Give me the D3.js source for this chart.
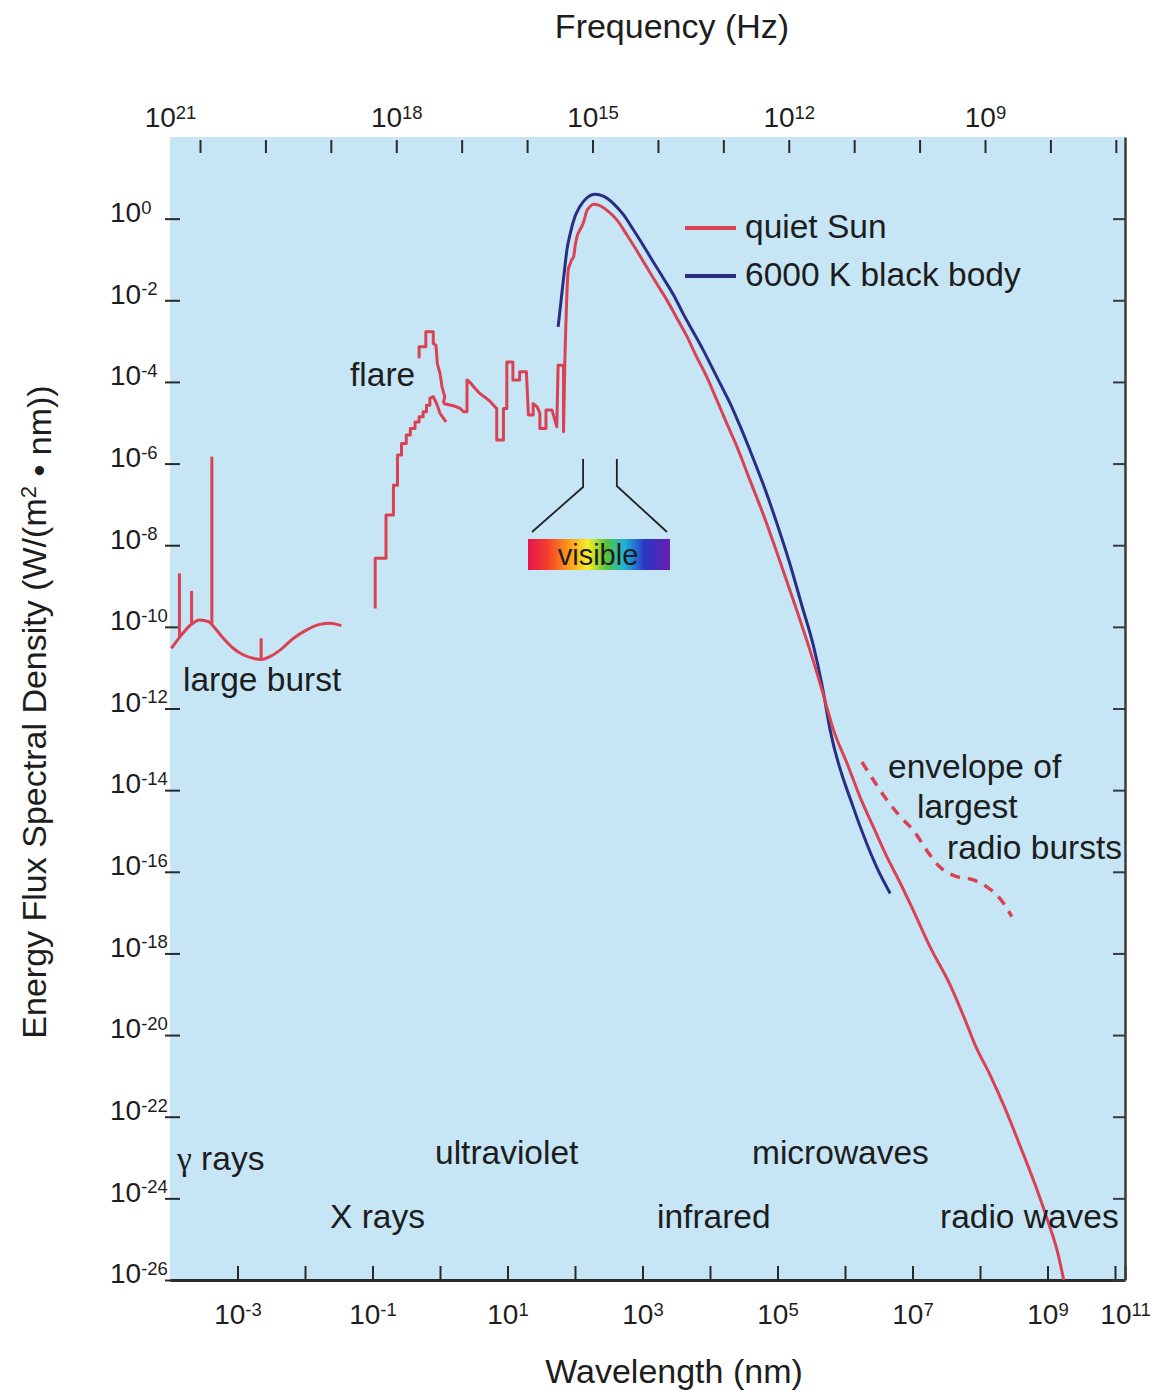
<!DOCTYPE html>
<html>
<head>
<meta charset="utf-8">
<script src="https://cdn.jsdelivr.net/npm/d3@7"></script>
<style>
  body { margin: 0; background: #fff; }
  svg text { font-family: "Liberation Sans", Arial, Helvetica, sans-serif; fill: #1d1d1d; }
</style>
</head>
<body>
<svg id="chart" width="1153" height="1397"></svg>
<script>
// every point is [log10 wavelength (nm), log10 flux (W/(m^2 nm))]
const burstCurve = [[-3.98,-10.53],[-3.85,-10.24],[-3.70,-9.96],[-3.56,-9.83],[-3.43,-9.87],[-3.33,-10.04],
  [-3.21,-10.28],[-3.06,-10.53],[-2.91,-10.69],[-2.77,-10.77],[-2.64,-10.80],[-2.52,-10.73],[-2.37,-10.57],
  [-2.17,-10.28],[-1.98,-10.08],[-1.78,-9.94],[-1.63,-9.91],[-1.46,-9.97]];
// [log wavelength, base, top]
const burstSpikes = [[-3.86,-10.27,-8.69],[-3.68,-9.93,-9.12],[-3.38,-9.95,-5.83],[-2.65,-10.80,-10.28]];

const xraySteps = [[-0.96,-9.55],[-0.96,-8.32],[-0.80,-8.32],[-0.80,-7.26],[-0.69,-7.26],[-0.69,-6.53],
  [-0.63,-6.53],[-0.63,-5.79],[-0.57,-5.79],[-0.57,-5.51],[-0.50,-5.51],[-0.50,-5.30],[-0.44,-5.30],
  [-0.44,-5.14],[-0.37,-5.14],[-0.37,-4.98],[-0.31,-4.98],[-0.31,-4.85],[-0.25,-4.85],[-0.25,-4.73],
  [-0.20,-4.73],[-0.20,-4.57],[-0.15,-4.57],[-0.15,-4.40],[-0.10,-4.36],[-0.05,-4.53],[0.00,-4.77],[0.09,-4.98]];

const flareSteps = [[-0.31,-3.42],[-0.31,-3.14],[-0.21,-3.14],[-0.21,-2.77],[-0.10,-2.77],[-0.10,-3.06],
  [-0.06,-3.10],[-0.04,-3.55],[0.00,-3.79],[0.03,-4.12],[0.07,-4.36],[0.05,-4.53]];

const euvSteps = [[0.05,-4.53],[0.21,-4.59],[0.30,-4.65],[0.35,-4.73],[0.40,-4.73],[0.40,-3.95],[0.44,-4.00],
  [0.52,-4.16],[0.59,-4.28],[0.67,-4.38],[0.75,-4.49],[0.82,-4.62],[0.84,-4.65],[0.84,-5.42],[0.94,-5.42],
  [0.94,-4.65],[0.99,-4.65],[0.99,-3.51],[1.08,-3.51],[1.08,-3.95],[1.18,-3.95],[1.18,-3.75],[1.28,-3.75],
  [1.31,-4.81],[1.38,-4.81],[1.38,-4.53],[1.44,-4.61],[1.48,-4.77],[1.48,-5.14],[1.57,-5.14],[1.57,-4.69],
  [1.66,-4.69],[1.73,-5.10],[1.75,-3.59],[1.83,-3.59],[1.83,-5.22],[1.85,-3.46]];

const quietSun = [[1.85,-3.46],[1.90,-1.26],[1.93,-1.10],[1.95,-1.01],[1.98,-0.93],[2.00,-0.69],[2.03,-0.44],
  [2.07,-0.28],[2.12,-0.12],[2.15,0.05],[2.17,0.17],[2.22,0.29],[2.27,0.35],[2.35,0.33],[2.47,0.21],
  [2.62,-0.03],[2.77,-0.40],[2.91,-0.77],[3.06,-1.18],[3.21,-1.59],[3.36,-1.99],[3.51,-2.44],[3.66,-2.89],
  [3.80,-3.38],[3.95,-3.87],[4.10,-4.44],[4.25,-5.02],[4.40,-5.59],[4.59,-6.40],[4.82,-7.38],[5.04,-8.41],
  [5.26,-9.47],[5.48,-10.57],[5.66,-11.55],[5.83,-12.53],[6.03,-13.34],[6.22,-14.16],[6.42,-14.90],
  [6.62,-15.63],[6.82,-16.28],[7.01,-16.94],[7.26,-17.84],[7.56,-18.78],[7.78,-19.63],[7.93,-20.25],
  [8.15,-20.98],[8.37,-21.79],[8.59,-22.70],[8.82,-23.68],[9.01,-24.58],[9.16,-25.39],[9.24,-26.00]];

const blackBody = [[1.75,-2.65],[1.80,-1.91],[1.85,-1.18],[1.88,-0.77],[1.93,-0.36],[2.00,0.05],[2.07,0.29],
  [2.17,0.50],[2.30,0.60],[2.42,0.55],[2.57,0.37],[2.72,0.09],[2.86,-0.26],[3.01,-0.65],[3.16,-1.06],
  [3.31,-1.46],[3.46,-1.87],[3.60,-2.32],[3.75,-2.77],[3.90,-3.22],[4.05,-3.71],[4.20,-4.20],[4.30,-4.53],
  [4.44,-5.06],[4.62,-5.79],[4.82,-6.65],[5.01,-7.56],[5.19,-8.49],[5.36,-9.47],[5.53,-10.45],[5.66,-11.43],
  [5.78,-12.53],[6.12,-14.41],[6.32,-15.30],[6.49,-15.96],[6.67,-16.53]];

const radioEnvelope = [[6.25,-13.31],[6.42,-13.75],[6.62,-14.24],[6.82,-14.65],[7.01,-14.98],[7.21,-15.47],
  [7.33,-15.75],[7.46,-15.96],[7.66,-16.12],[7.90,-16.20],[8.10,-16.37],[8.25,-16.57],[8.37,-16.82],[8.47,-17.10]];

const waveTicks = d3.range(-3, 12);          // exponents on the wavelength axis
const freqTicks = d3.range(21, 6, -1);       // exponents on the frequency axis
const fluxTicks = d3.range(0, -27, -2);      // exponents on the flux axis
const visibleEdges = [2.12, 2.62];           // log wavelength of the two visible-band markers

const RED = "#da4254", BLUE = "#2b2d85";
const plot = { left: 170, right: 1125, top: 137, bottom: 1280 };

const svg = d3.select("#chart");

const x = d3.scaleLog().domain([1e-4, 1e10, 1e11]).range([plot.left, 1115, plot.right]);
const y = d3.scaleLog().domain([1e-26, 1e2]).range([plot.bottom, plot.top]);
const fx = d3.scaleLog().domain([1e21, 1e9]).range([200, 985]);

const px = d => x(10 ** d[0]);
const py = d => y(10 ** d[1]);
const straight = d3.line().x(px).y(py);
const smooth = d3.line().x(px).y(py).curve(d3.curveMonotoneX);

// background
svg.append("rect")
  .attr("x", plot.left).attr("y", plot.top)
  .attr("width", plot.right - plot.left).attr("height", plot.bottom - plot.top)
  .attr("fill", "#c6e6f5");

function powerLabels(sel, show, sup) {
  sel.each(function(d) {
    const e = Math.round(Math.log10(d));
    const t = d3.select(this).text(null);
    if (!show(e)) return;
    t.append("tspan").text("10");
    t.append("tspan").attr("dy", "-0.45em").attr("font-size", sup).text(e);
  });
}

// bottom axis
const gx = svg.append("g")
  .attr("transform", `translate(0,${plot.bottom})`)
  .call(d3.axisBottom(x).tickValues(waveTicks.map(e => 10 ** e))
    .tickSizeInner(-14).tickSizeOuter(0).tickPadding(24));
gx.attr("font-size", 28).attr("font-family", null).attr("color", "#2a2a2a");
gx.select(".domain").attr("stroke-width", 3);
gx.selectAll(".tick line").attr("stroke-width", 2);
gx.selectAll(".tick text").call(powerLabels, e => e % 2 !== 0, 18.5);

// top axis (frequency)
const gt = svg.append("g")
  .attr("transform", `translate(0,${plot.top + 3})`)
  .call(d3.axisTop(fx).tickValues(freqTicks.map(e => 10 ** e))
    .tickSizeInner(-13).tickSizeOuter(0).tickPadding(13));
gt.attr("font-size", 28).attr("font-family", null).attr("color", "#2a2a2a");
gt.select(".domain").remove();
gt.selectAll(".tick line").attr("stroke-width", 2);
gt.selectAll(".tick text").call(powerLabels, e => e % 3 === 0, 18.5);
gt.selectAll(".tick text").filter(d => d === 1e21).attr("dx", -30);

// left axis, labels flush left as in the print
const gy = svg.append("g")
  .attr("transform", `translate(${plot.left - 5},0)`)
  .call(d3.axisLeft(y).tickValues(fluxTicks.map(e => 10 ** e))
    .tickSizeInner(-15).tickSizeOuter(0));
gy.attr("font-size", 28).attr("font-family", null).attr("color", "#2a2a2a");
gy.select(".domain").remove();
gy.selectAll(".tick line").attr("stroke-width", 2);
gy.selectAll(".tick text").attr("x", 110 - (plot.left - 5)).attr("text-anchor", "start")
  .attr("dy", "0.1em").call(powerLabels, () => true, 18.5);

// right axis
const gr = svg.append("g")
  .attr("transform", `translate(${plot.right},0)`)
  .call(d3.axisRight(y).tickValues(fluxTicks.map(e => 10 ** e))
    .tickSizeInner(-12).tickSizeOuter(0).tickFormat(() => ""));
gr.attr("color", "#3a3a3a");
gr.select(".domain").attr("stroke-width", 2.5);
gr.selectAll(".tick line").attr("stroke-width", 2);

// titles
svg.append("text").attr("x", 672).attr("y", 38).attr("text-anchor", "middle")
  .attr("font-size", 34).text("Frequency (Hz)");
svg.append("text").attr("x", 674).attr("y", 1383).attr("text-anchor", "middle")
  .attr("font-size", 34).text("Wavelength (nm)");
const yt = svg.append("text").attr("transform", "translate(46,712) rotate(-90)")
  .attr("text-anchor", "middle").attr("font-size", 34);
yt.append("tspan").text("Energy Flux Spectral Density (W/(m");
yt.append("tspan").attr("dy", "-0.45em").attr("font-size", 22).text("2");
yt.append("tspan").attr("dy", "0.45em").text(" \u2022 nm))");

// visible band marker
const grad = svg.append("defs").append("linearGradient").attr("id", "rainbow");
[["0%", "#e8124f"], ["14%", "#f2402a"], ["30%", "#ffa21a"], ["42%", "#f7ee2a"], ["55%", "#57c43a"],
 ["68%", "#1fb3d8"], ["82%", "#2a37c4"], ["100%", "#6a1db0"]].forEach(s =>
  grad.append("stop").attr("offset", s[0]).attr("stop-color", s[1]));
svg.append("rect").attr("x", 528).attr("y", 539).attr("width", 142).attr("height", 31)
  .attr("fill", "url(#rainbow)");
svg.append("text").attr("x", 598).attr("y", 565).attr("text-anchor", "middle")
  .attr("font-size", 29).text("visible");
const vx0 = x(10 ** visibleEdges[0]), vx1 = x(10 ** visibleEdges[1]);
svg.append("path").attr("fill", "none").attr("stroke", "#222").attr("stroke-width", 1.8)
  .attr("d", `M${vx0},459V487L532,532M${vx1},459V486L667,532`);

// series
svg.append("path").datum(burstCurve).attr("d", smooth)
  .attr("fill", "none").attr("stroke", RED).attr("stroke-width", 3);
svg.append("g").selectAll("line").data(burstSpikes).join("line")
  .attr("x1", d => x(10 ** d[0])).attr("x2", d => x(10 ** d[0]))
  .attr("y1", d => y(10 ** d[1])).attr("y2", d => y(10 ** d[2]))
  .attr("stroke", RED).attr("stroke-width", 3);

[xraySteps, flareSteps, euvSteps].forEach(s =>
  svg.append("path").datum(s).attr("d", straight)
    .attr("fill", "none").attr("stroke", RED).attr("stroke-width", 3).attr("stroke-linejoin", "round"));

svg.append("path").datum(blackBody).attr("d", smooth)
  .attr("fill", "none").attr("stroke", BLUE).attr("stroke-width", 3);
svg.append("path").datum(quietSun).attr("d", smooth)
  .attr("fill", "none").attr("stroke", RED).attr("stroke-width", 3);
svg.append("path").datum(radioEnvelope).attr("d", smooth)
  .attr("fill", "none").attr("stroke", RED).attr("stroke-width", 3.5).attr("stroke-dasharray", "10 8");

// legend
const legend = [["quiet Sun", RED, 228], ["6000 K black body", BLUE, 276]];
legend.forEach(([name, c, ly]) => {
  svg.append("line").attr("x1", 685).attr("x2", 736).attr("y1", ly).attr("y2", ly)
    .attr("stroke", c).attr("stroke-width", 4);
  svg.append("text").attr("x", 745).attr("y", ly + 10).attr("font-size", 33.5).text(name);
});

// annotations
const notes = [
  ["large burst", 183, 691], ["flare", 350, 386],
  ["envelope of", 888, 778], ["largest", 917, 818], ["radio bursts", 947, 859],
  ["X rays", 330, 1228], ["ultraviolet", 435, 1164],
  ["infrared", 657, 1228], ["microwaves", 752, 1164], ["radio waves", 940, 1228]
];
svg.append("g").selectAll("text").data(notes).join("text")
  .attr("x", d => d[1]).attr("y", d => d[2]).attr("font-size", 33.5).text(d => d[0]);
const gamma = svg.append("text").attr("x", 177).attr("y", 1170).attr("font-size", 33.5);
gamma.append("tspan").attr("font-family", "'Liberation Serif', 'DejaVu Serif', serif").text("\u03b3");
gamma.append("tspan").text(" rays");
</script>
</body>
</html>
